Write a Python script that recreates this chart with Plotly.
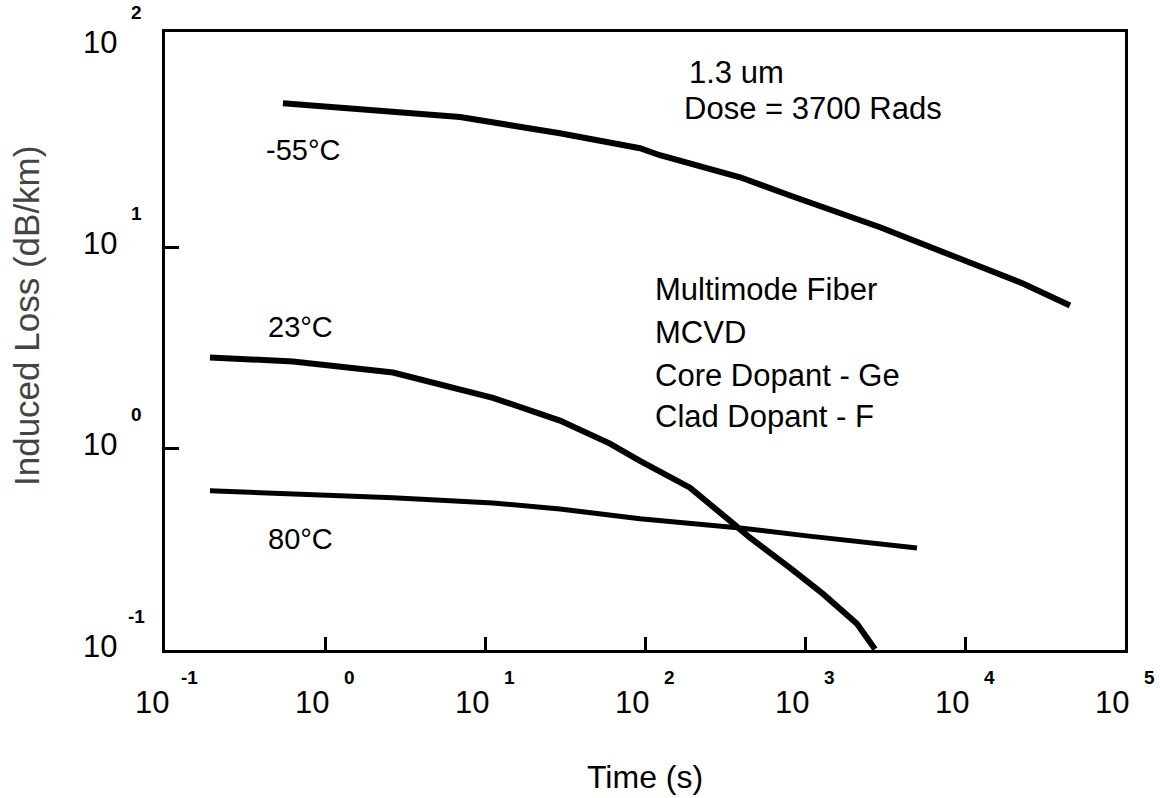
import plotly.graph_objects as go

# ---- data ----
t_m55 = [0.546, 1.296, 6.98, 29.4, 93, 124, 393, 806, 2944, 8913, 23000, 45300]
loss_m55 = [52.0, 49.2, 44.4, 36.9, 31.1, 28.7, 22.3, 18.1, 12.6, 8.9, 6.62, 5.14]

t_23 = [0.191, 0.631, 2.66, 11.2, 29.4, 60.4, 93, 191, 340, 453, 806, 1296, 2113, 2738]
loss_23 = [2.84, 2.71, 2.39, 1.79, 1.38, 1.06, 0.871, 0.640, 0.438, 0.361, 0.256, 0.190, 0.135, 0.101]

t_80 = [0.191, 0.631, 2.66, 11.2, 29.4, 93, 393, 1029, 2661, 5012]
loss_80 = [0.618, 0.597, 0.570, 0.538, 0.502, 0.449, 0.404, 0.369, 0.341, 0.321]

series_names = ["-55°C", "23°C", "80°C"]
x_tick_exponents = ["-1", "0", "1", "2", "3", "4", "5"]
y_tick_exponents = ["-1", "0", "1", "2"]
x_title = "Time (s)"
y_title = "Induced Loss (dB/km)"
header_lines = ["1.3 um", "Dose = 3700 Rads"]
fiber_lines = ["Multimode Fiber", "MCVD", "Core Dopant - Ge", "Clad Dopant - F"]

FONT = "Liberation Sans, Arial, sans-serif"

fig = go.Figure()
for t, l, name, w in [(t_m55, loss_m55, series_names[0], 6),
                      (t_23, loss_23, series_names[1], 6),
                      (t_80, loss_80, series_names[2], 5)]:
    fig.add_trace(go.Scatter(x=t, y=l, mode="lines", name=name,
                             line=dict(color="black", width=w), showlegend=False))

ann = []
# x tick labels: "10" with raised exponent
for e in x_tick_exponents:
    k = int(e)
    ann.append(dict(x=k, y=0, xref="x", yref="paper", text="10", showarrow=False,
                    xanchor="center", yanchor="middle", xshift=-13, yshift=-52,
                    font=dict(family=FONT, size=31, color="black")))
    ann.append(dict(x=k, y=0, xref="x", yref="paper", text="<b>%s</b>" % e, showarrow=False,
                    xanchor="center", yanchor="middle", xshift=24, yshift=-27,
                    font=dict(family=FONT, size=19, color="black")))
# y tick labels
for e in y_tick_exponents:
    k = int(e)
    ann.append(dict(x=0, y=k, xref="paper", yref="y", text="10", showarrow=False,
                    xanchor="center", yanchor="middle", xshift=-65, yshift=4,
                    font=dict(family=FONT, size=31, color="black")))
    ann.append(dict(x=0, y=k, xref="paper", yref="y", text="<b>%s</b>" % e, showarrow=False,
                    xanchor="center", yanchor="middle", xshift=-29, yshift=34,
                    font=dict(family=FONT, size=19, color="black")))

# curve labels (positions in log10 units)
for name, (lx, ly) in zip(series_names, [(-0.1375, 1.483), (-0.156, 0.607), (-0.156, -0.448)]):
    ann.append(dict(x=lx, y=ly, xref="x", yref="y", text=name, showarrow=False,
                    xanchor="center", yanchor="middle",
                    font=dict(family=FONT, size=29, color="black")))

# header text
for txt, (lx, ly) in zip(header_lines, [(2.2625, 1.871), (2.231, 1.692)]):
    ann.append(dict(x=lx, y=ly, xref="x", yref="y", text=txt, showarrow=False,
                    xanchor="left", yanchor="middle",
                    font=dict(family=FONT, size=31, color="black")))
for txt, ly in zip(fiber_lines, [0.791, 0.577, 0.363, 0.159]):
    ann.append(dict(x=2.05, y=ly, xref="x", yref="y", text=txt, showarrow=False,
                    xanchor="left", yanchor="middle",
                    font=dict(family=FONT, size=31, color="black")))

# axis titles
ann.append(dict(x=0.5, y=0, xref="paper", yref="paper", text=x_title, showarrow=False,
                xanchor="center", yanchor="middle", yshift=-127,
                font=dict(family=FONT, size=32, color="black")))
ann.append(dict(x=0, y=0.5, xref="paper", yref="paper", text=y_title, showarrow=False,
                xanchor="center", yanchor="middle", xshift=-139, yshift=25, textangle=-90,
                font=dict(family=FONT, size=35, color="#444444")))

fig.update_layout(
    width=1160, height=798,
    margin=dict(l=165, r=35, t=32, b=148),
    paper_bgcolor="white", plot_bgcolor="white",
    annotations=ann,
    xaxis=dict(type="log", range=[-1, 5], showgrid=False, zeroline=False,
               showline=True, linecolor="black", linewidth=3, mirror=True,
               ticks="inside", ticklen=13, tickwidth=3, tickcolor="black",
               tickvals=[1, 10, 100, 1000, 10000], showticklabels=False),
    yaxis=dict(type="log", range=[-1, 2.07], showgrid=False, zeroline=False,
               showline=True, linecolor="black", linewidth=3, mirror=True,
               ticks="inside", ticklen=14, tickwidth=3, tickcolor="black",
               tickvals=[1, 10], showticklabels=False),
)

fig.write_html("out.html")
